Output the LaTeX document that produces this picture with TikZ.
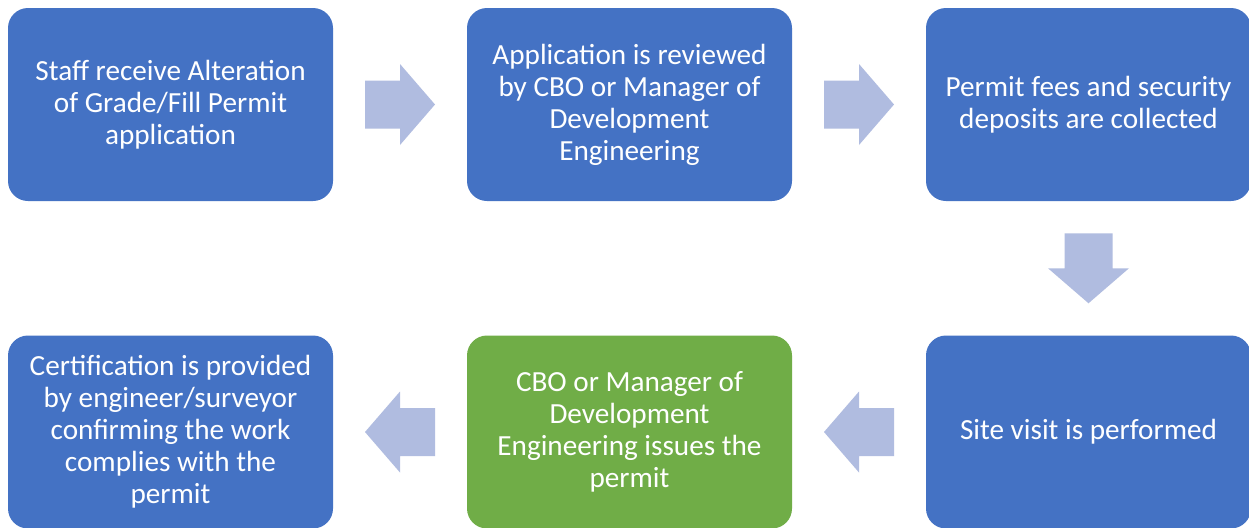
\documentclass[tikz,border=0pt]{standalone}
\usepackage{fontspec}
\setmainfont{Carlito}
\usetikzlibrary{calc}
\definecolor{boxblue}{RGB}{68,114,196}
\definecolor{boxgreen}{RGB}{112,173,71}
\definecolor{arrowblue}{RGB}{176,188,224}
\tikzset{
	stepbox/.style={fill=boxblue, rounded corners=10pt, minimum width=162.5pt, minimum height=96.5pt, inner sep=0pt, text=white, align=center, font=\fontsize{14.6}{16}\selectfont},
	flowarrow/.pic={\fill[arrowblue] (-35,-24) -- (0,-24) -- (0,-40.5) -- (35,0) -- (0,40.5) -- (0,24) -- (-35,24) -- cycle;}
}

\begin{document}
\begin{tikzpicture}[x=0.5pt, y=-0.5pt]
		%%%%% START %%%%%
		
		\fill[white] (0,0) rectangle (1249,527);
		\useasboundingbox (0,0) rectangle (1249,527);
		
		\node[stepbox] (receive) at (170.5,104.5) {Staff receive Alteration\\of Grade/Fill Permit\\application};
		\node[stepbox] (review) at (629.5,104.5) {Application is reviewed\\by CBO or Manager of\\Development\\Engineering};
		\node[stepbox] (fees) at (1088.5,104.5) {Permit fees and security\\deposits are collected};
		
		\node[stepbox] (visit) at (1088.5,432) {Site visit is performed};
		\node[stepbox, fill=boxgreen] (issue) at (629.5,432) {CBO or Manager of\\Development\\Engineering issues the\\permit};
		\node[stepbox] (certify) at (170.5,432) {Certification is provided\\by engineer/surveyor\\confirming the work\\complies with the\\permit};
		
		\pic at ($(receive.east)!0.5!(review.west)$) {flowarrow};
		\pic at ($(review.east)!0.5!(fees.west)$) {flowarrow};
		\pic[rotate=-90] at ($(fees.south)!0.5!(visit.north)$) {flowarrow};
		\pic[rotate=180] at ($(visit.west)!0.5!(issue.east)$) {flowarrow};
		\pic[rotate=180] at ($(issue.west)!0.5!(certify.east)$) {flowarrow};
		
		%%%%% END %%%%%
\end{tikzpicture}
\end{document}
